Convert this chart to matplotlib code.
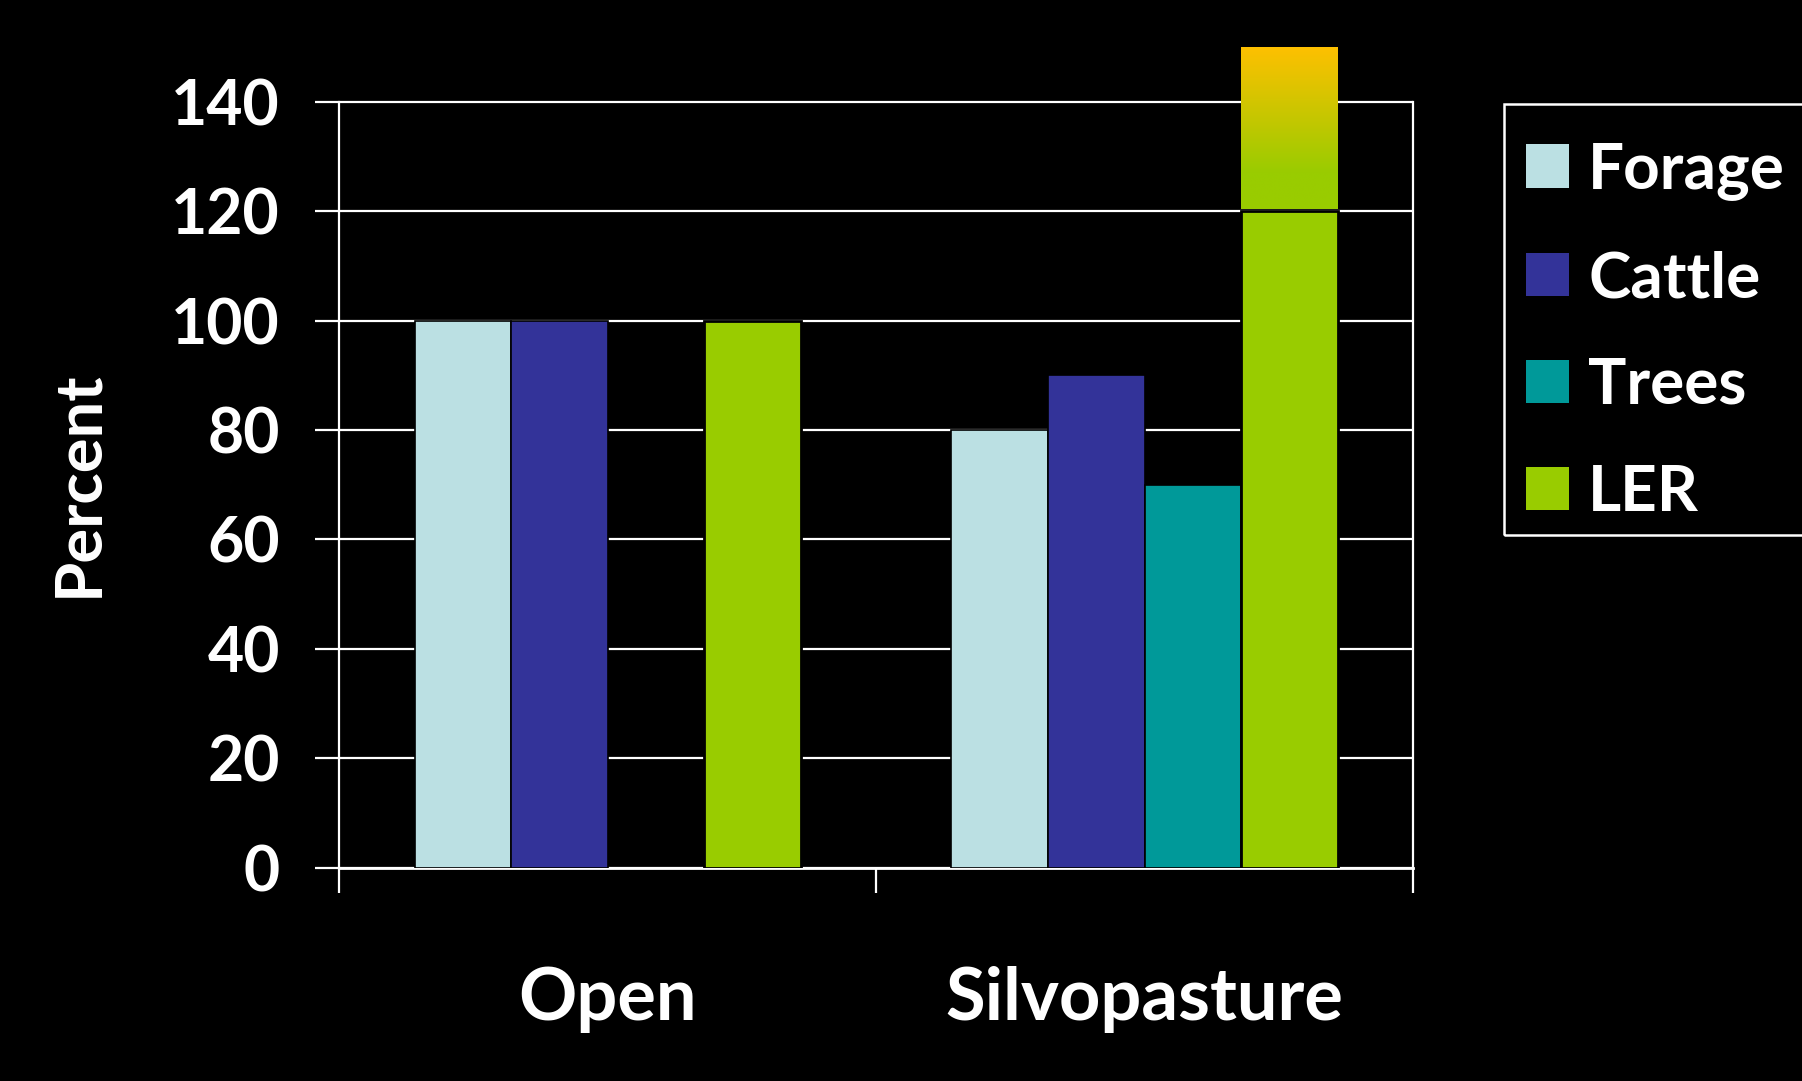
import numpy as np
import matplotlib
matplotlib.use("Agg")
import matplotlib.pyplot as plt
from matplotlib.colors import LinearSegmentedColormap
from matplotlib.patches import Patch, Rectangle

# ---- data ----
categories = ["Open", "Silvopasture"]
series_names = ["Forage", "Cattle", "Trees", "LER"]
forage = [100, 80]
cattle = [100, 90]
trees = [0, 70]
ler = [100, 120]
ler_extra = [0, 30]          # gradient cap on top of LER (Silvopasture)
yticks = [0, 20, 40, 60, 80, 100, 120, 140]

colors = ["#BBE0E3", "#333399", "#009999", "#99CC00"]
grad_bottom, grad_top = "#99CC00", "#FFC000"

FONT = "Lato"
plt.rcParams["font.family"] = [FONT, "DejaVu Sans"]
plt.rcParams["font.weight"] = "bold"

fig = plt.figure(figsize=(18.02, 10.81), dpi=100, facecolor="black")
ax = fig.add_axes([0.1884, 0.1973, 0.5957, 0.7592], facecolor="black")

x = np.arange(len(categories))
w = 0.18
series = [forage, cattle, trees, ler]
offsets = [-1.5 * w, -0.5 * w, 0.5 * w, 1.5 * w]
for vals, off, col, name in zip(series, offsets, colors, series_names):
    v = np.array(vals, dtype=float)
    v = np.where(v > 0, v, np.nan)
    lw = 2.0 if name == "LER" else 1.2
    ax.bar(x + off, v, width=w, color=col, edgecolor="black",
           linewidth=lw, label=name, zorder=3)

# gradient cap above LER
extra = np.array(ler_extra, dtype=float)
extra = np.where(extra > 0, extra, np.nan)
cap = ax.bar(x + offsets[3], extra, bottom=ler, width=w, color="none",
             edgecolor="none", linewidth=0, zorder=4)
cmap = LinearSegmentedColormap.from_list(
    "ler_grad", [(0, grad_bottom), (0.22, grad_bottom), (1, grad_top)])
grad = np.linspace(0, 1, 256).reshape(-1, 1)
for rect in cap:
    h = rect.get_height()
    if not np.isfinite(h) or h <= 0:
        continue
    x0, y0 = rect.get_x(), rect.get_y()
    im = ax.imshow(grad, cmap=cmap, origin="lower", aspect="auto",
                   extent=[x0, x0 + rect.get_width(), y0 + 0.35, y0 + h],
                   zorder=4, interpolation="bilinear")
    im.set_clip_path(rect)

ax.set_xlim(-0.5, 1.5)
ax.set_ylim(0, 150)

# grid and spines
ax.set_yticks(yticks)
ax.yaxis.grid(True, color="white", linewidth=1.6, zorder=1)
ax.set_axisbelow(True)
for s in ["left", "right"]:
    ax.spines[s].set_color("white")
    ax.spines[s].set_linewidth(1.6)
    ax.spines[s].set_bounds(0, 140)
ax.spines["bottom"].set_color("white")
ax.spines["bottom"].set_linewidth(2)
ax.spines["top"].set_visible(False)

ax.tick_params(axis="y", colors="white", length=17, width=1.6, direction="out",
               pad=26, labelsize=45, labelcolor="white")
for lab in ax.get_yticklabels():
    lab.set_fontweight("bold")

# x: boundary ticks (major) and category labels (minor)
ax.set_xticks([-0.5, 0.5, 1.5])
ax.set_xticklabels(["", "", ""])
ax.tick_params(axis="x", which="major", colors="white", length=18, width=1.6,
               direction="out")
ax.set_xticks(x, minor=True)
ax.set_xticklabels(categories, minor=True, fontsize=52, fontweight="bold",
                   color="white")
ax.tick_params(axis="x", which="minor", length=0, pad=71)

ax.set_ylabel("Percent", fontsize=47, fontweight="bold", color="white",
              va="center")
ax.yaxis.set_label_coords(-0.2427, 0.4675)

leg_handles = [Patch(facecolor=c, edgecolor="none") for c in colors]
leg = fig.legend(leg_handles, series_names, loc="upper left",
                 bbox_to_anchor=(0.8327, 0.893), borderaxespad=0,
                 frameon=False, fontsize=46, handlelength=0.67,
                 handleheight=0.67, handletextpad=0.30, labelspacing=0.78,
                 borderpad=0.4)
for t in leg.get_texts():
    t.set_color("white")
    t.set_fontweight("bold")

# legend frame (extends past the right edge, as in the original)
frame = Rectangle((1504 / 1802, 1 - 535 / 1081), 0.2, (535 - 104) / 1081,
                  transform=fig.transFigure, fill=False, edgecolor="white",
                  linewidth=1.8)
fig.add_artist(frame)

fig.savefig("out.png", dpi=100, facecolor="black")
